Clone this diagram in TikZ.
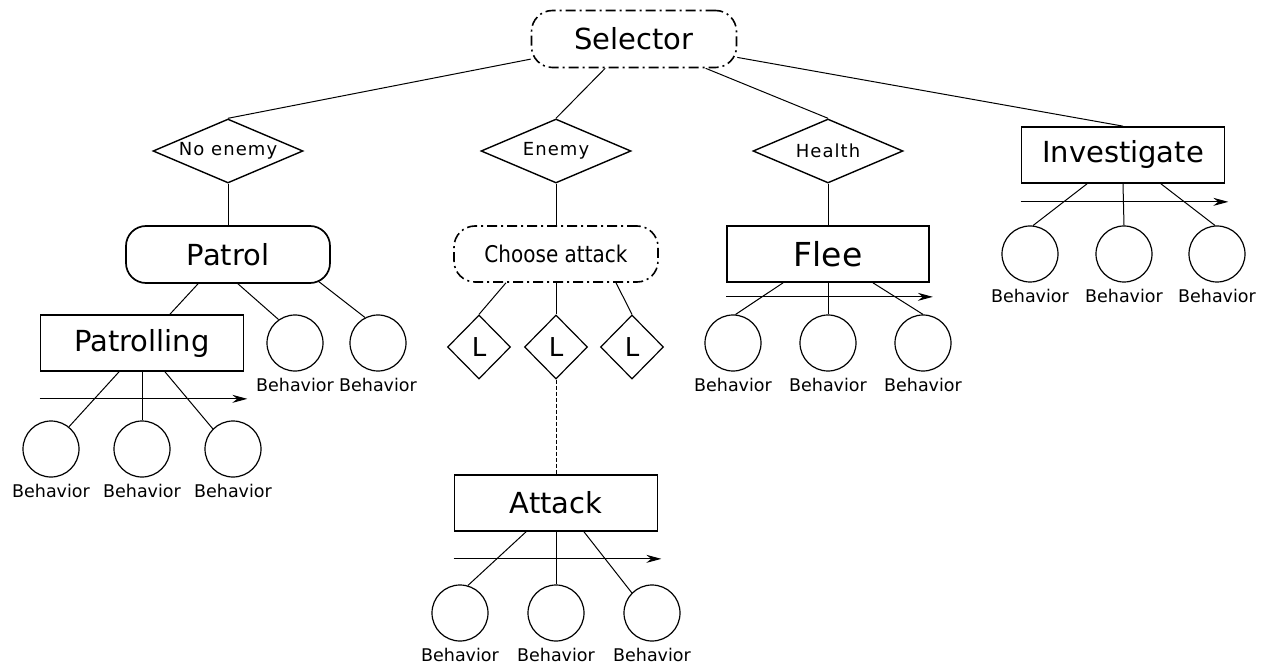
\documentclass[tikz,border=0pt]{standalone}
\usepackage{fontspec}
\setmainfont{DejaVu Sans}
\newfontfamily\condfont[FakeStretch=0.87]{DejaVu Sans}
\newfontfamily\spacedfont[LetterSpace=6]{DejaVu Sans}
\usetikzlibrary{shapes.geometric,positioning,arrows.meta}

\tikzset{
	selnode/.style={draw,rounded corners=21pt,line width=1.6pt,dash pattern=on 10pt off 4pt on 2pt off 4pt,minimum width=205pt,minimum height=57pt,inner sep=0pt},
	condnode/.style={draw,diamond,aspect=2.4,line width=1.4pt,minimum width=150pt,minimum height=64pt,inner sep=0pt,font=\spacedfont\fontsize{18}{18}\selectfont},
	actnode/.style={draw,rectangle,line width=1.7pt,minimum width=203pt,minimum height=56pt,inner sep=0pt,font=\fontsize{29}{29}\selectfont},
	behnode/.style={draw,circle,line width=1.2pt,minimum size=56pt,inner sep=0pt},
	behtext/.style={inner sep=0pt,font=\fontsize{17.5}{17.5}\selectfont},
	lnode/.style={draw,diamond,line width=1.2pt,minimum width=63pt,minimum height=64pt,inner sep=0pt,font=\fontsize{26}{26}\selectfont},
	link/.style={line width=1pt}
}

\begin{document}
\begin{tikzpicture}[x=1pt,y=-1pt,every path/.style={>={Stealth[length=15pt,width=8pt]}}]
	\useasboundingbox (0,0) rectangle (1270,663);
	
	% draw root selector
	\node (sel) at (634,39) [selnode,font=\fontsize{29}{29}\selectfont] {Selector};
	
	% draw conditions
	\node (noenemy) at (228,151) [condnode] {No enemy};
	\node (enemy) at (556,151) [condnode] {Enemy};
	\node (health) at (828,151) [condnode] {Health};
	
	% draw second level
	\node (patrol) at (228,254.5) [actnode,rounded corners=20pt,minimum width=204pt,minimum height=57pt] {Patrol};
	\node (choose) at (556,254) [selnode,minimum width=204pt,minimum height=56pt,font=\condfont\fontsize{23}{23}\selectfont] {Choose attack};
	\node (flee) at (828,254) [actnode,minimum width=202pt,font=\fontsize{33}{33}\selectfont] {Flee};
	\node (invest) at (1123,155) [actnode] {Investigate};
	
	% draw patrolling and attack
	\node (patrolling) at (142,343) [actnode] {Patrolling};
	\node (attack) at (556,503) [actnode] {Attack};
	
	% draw L diamonds
	\foreach \i/\x in {1/479,2/556,3/632}
	{
		\node (l-\i) at (\x,347) [lnode] {L};
	}
	
	% draw behaviors of patrol
	\foreach \i/\x in {1/295,2/378}
	{
		\node (pb-\i) at (\x,343) [behnode] {};
		\node (pb-\i-t) [behtext,below=6pt of pb-\i] {Behavior};
	}
	
	% draw behaviors of patrolling
	\foreach \i/\x in {1/51,2/142,3/233}
	{
		\node (pt-\i) at (\x,449) [behnode] {};
		\node (pt-\i-t) [behtext,below=6pt of pt-\i] {Behavior};
	}
	
	% draw behaviors of attack
	\foreach \i/\x in {1/460,2/556,3/652}
	{
		\node (at-\i) at (\x,613) [behnode] {};
		\node (at-\i-t) [behtext,below=6pt of at-\i] {Behavior};
	}
	
	% draw behaviors of flee
	\foreach \i/\x in {1/733,2/828,3/923}
	{
		\node (fl-\i) at (\x,343) [behnode] {};
		\node (fl-\i-t) [behtext,below=6pt of fl-\i] {Behavior};
	}
	
	% draw behaviors of investigate
	\foreach \i/\x in {1/1030,2/1124,3/1217}
	{
		\node (in-\i) at (\x,254) [behnode] {};
		\node (in-\i-t) [behtext,below=6pt of in-\i] {Behavior};
	}
	
	% draw lines from selector
	\draw[link] (sel) -- (noenemy.north);
	\draw[link] (sel) -- (enemy.north);
	\draw[link] (sel) -- (health.north);
	\draw[link] (sel) -- (invest.north);
	
	% draw lines from conditions
	\draw[link] (noenemy.south) -- (patrol.north);
	\draw[link] (enemy.south) -- (choose.north);
	\draw[link] (health.south) -- (flee.north);
	
	% draw lines from patrol
	\draw[link] ([xshift=-30pt]patrol.south) -- ([xshift=28pt]patrolling.north);
	\draw[link] ([xshift=10pt]patrol.south) -- (pb-1.125);
	\draw[link] ([xshift=-13pt,yshift=3pt]patrol.south east) -- (pb-2.117);
	
	% draw lines from patrolling
	\draw[link] ([xshift=-23pt]patrolling.south) -- (pt-1.51);
	\draw[link] (patrolling.south) -- (pt-2.north);
	\draw[link] ([xshift=23pt]patrolling.south) -- (pt-3.135);
	\draw[link,->] ([yshift=-27pt]patrolling.south west) -- ([xshift=3pt,yshift=-27pt]patrolling.south east);
	
	% draw lines from choose attack
	\draw[link] ([xshift=-50pt]choose.south) -- (l-1.north);
	\draw[link] (choose.south) -- (l-2.north);
	\draw[link] ([xshift=60pt]choose.south) -- (l-3.north);
	\draw[link,dash pattern=on 4pt off 2pt] (l-2.south) -- (attack.north);
	
	% draw lines from attack
	\draw[link] ([xshift=-30pt]attack.south) -- (at-1.74);
	\draw[link] (attack.south) -- (at-2.north);
	\draw[link] ([xshift=28pt]attack.south) -- (at-3.135);
	\draw[link,->] ([yshift=-27pt]attack.south west) -- ([xshift=3pt,yshift=-27pt]attack.south east);
	
	% draw lines from flee
	\draw[link] ([xshift=-45pt]flee.south) -- (fl-1.85);
	\draw[link] (flee.south) -- (fl-2.north);
	\draw[link] ([xshift=45pt]flee.south) -- (fl-3.north);
	\draw[link,->] ([yshift=-14pt]flee.south west) -- ([xshift=3pt,yshift=-14pt]flee.south east);
	
	% draw lines from investigate
	\draw[link] ([xshift=-36pt]invest.south) -- (in-1.84);
	\draw[link] (invest.south) -- (in-2.north);
	\draw[link] ([xshift=38pt]invest.south) -- (in-3.94);
	\draw[link,->] ([yshift=-18pt]invest.south west) -- ([xshift=3pt,yshift=-18pt]invest.south east);
\end{tikzpicture}
\end{document}
